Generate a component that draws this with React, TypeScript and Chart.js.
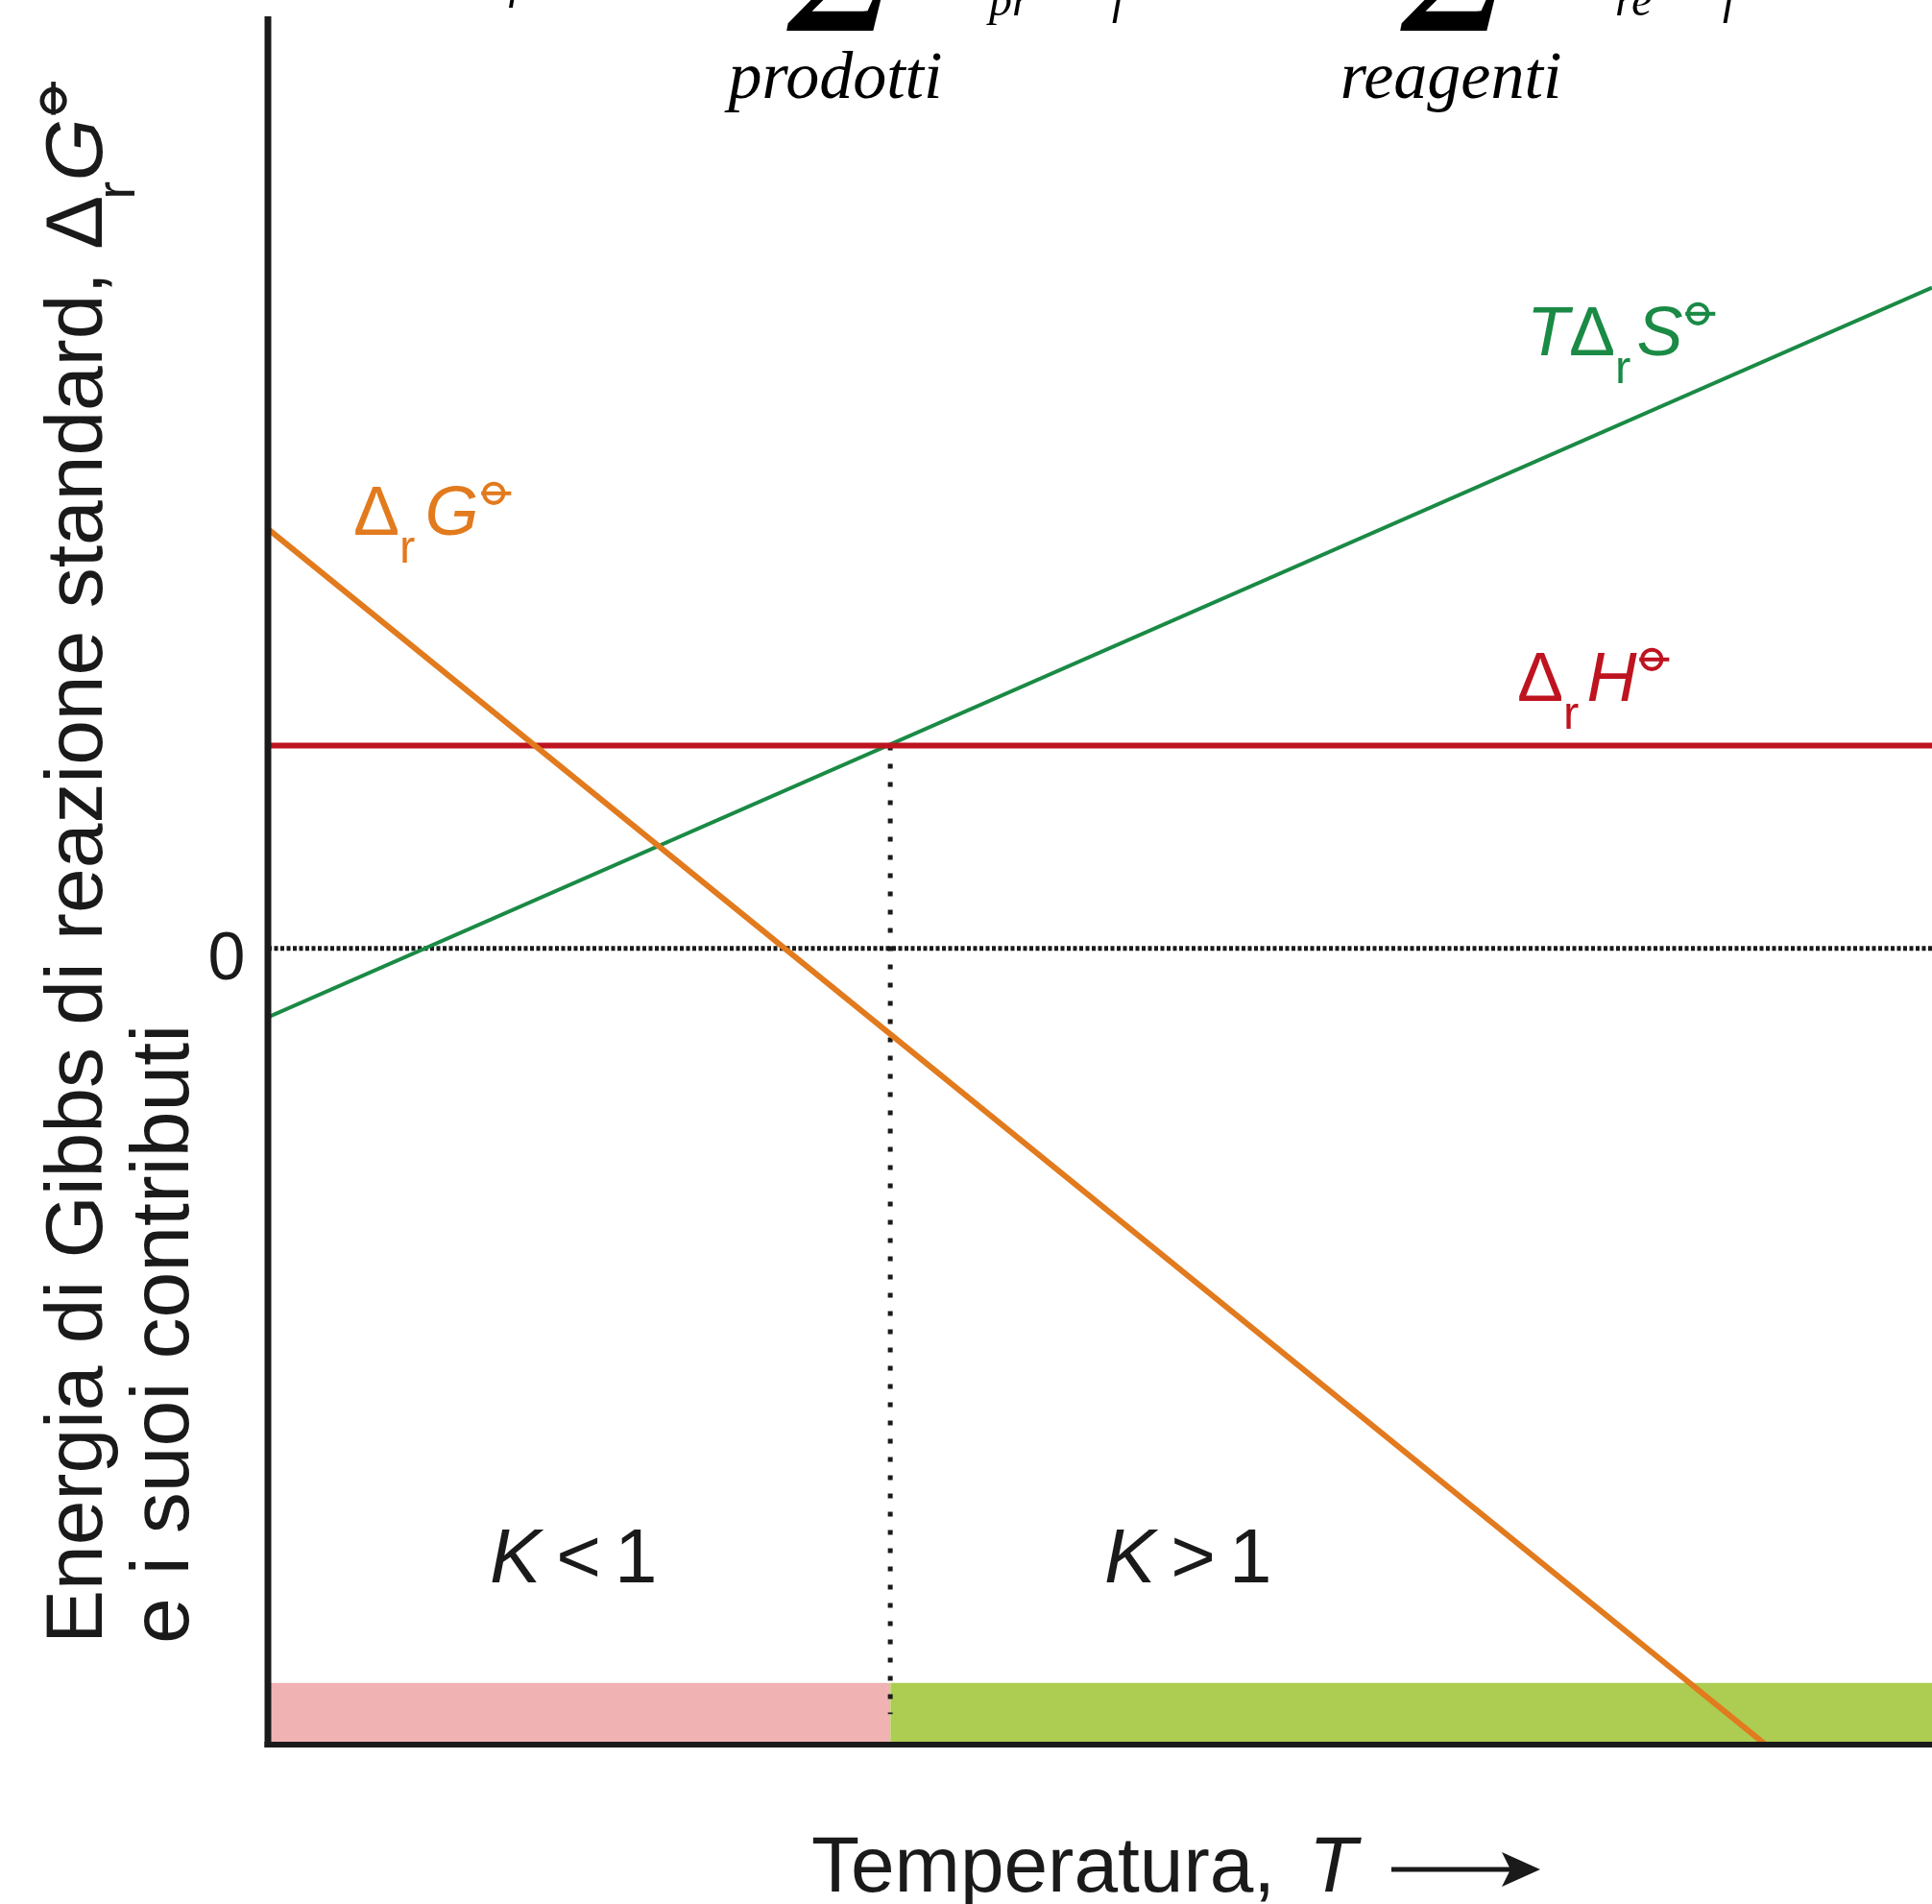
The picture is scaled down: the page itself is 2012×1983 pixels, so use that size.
import { useEffect, useRef } from "react";
import { Chart, registerables } from "chart.js";

Chart.register(...registerables);

// ---- data (schematic units: Δr H⊖ = 1) ----
const X_MIN = 0;
const X_MAX = 100;
const Y_MIN = -3.93;
const Y_MAX = 4.59;

const enthalpyT = [0, 100];
const enthalpyValues = [1, 1];
const entropyT = [0, 100];
const entropyValues = [-0.34, 3.26];
const gibbsT = [0, 90];
const gibbsValues = [2.07, -3.93];
const zeroT = [0, 100];
const zeroValues = [0, 0];
const crossoverT = [37.4, 37.4];
const crossoverValues = [1, -3.78];
const bandLowT = [0, 37.4];
const bandHighT = [37.4, 100];
const bandValues = [-3.626, -3.626];
const yTickLabels = ["0"];

const COLORS = {
  gibbs: "#E27A1E",
  entropy: "#1A8A45",
  enthalpy: "#BE1420",
  pink: "#F1B2B4",
  lime: "#ADCC52",
  ink: "#1a1a1a",
};

const SANS = '"Liberation Sans", Arial, Helvetica, sans-serif';
const SERIF = '"Liberation Serif", "Times New Roman", serif';

const pts = (xs: number[], ys: number[]) => xs.map((x, i) => ({ x, y: ys[i] }));

type Seg = { t?: string; italic?: boolean; sub?: boolean; plim?: boolean; gap?: number };

function plimsoll(ctx: CanvasRenderingContext2D, cx: number, cy: number, r: number, color: string) {
  ctx.save();
  ctx.strokeStyle = color;
  ctx.lineWidth = Math.max(3, r * 0.4);
  ctx.beginPath();
  ctx.arc(cx, cy, r, 0, Math.PI * 2);
  ctx.stroke();
  ctx.beginPath();
  ctx.moveTo(cx - r - 3, cy);
  ctx.lineTo(cx + r + 8, cy);
  ctx.stroke();
  ctx.restore();
}

function rich(
  ctx: CanvasRenderingContext2D,
  segs: Seg[],
  x: number,
  y: number,
  size: number,
  color: string,
  family: string
) {
  ctx.save();
  ctx.fillStyle = color;
  ctx.textBaseline = "alphabetic";
  ctx.textAlign = "left";
  let cx = x;
  for (const s of segs) {
    cx += s.gap || 0;
    if (s.plim) {
      const r = size * 0.14;
      plimsoll(ctx, cx + r + size * 0.08, y - size * 0.6, r, color);
      cx += 2 * r + size * 0.08;
      continue;
    }
    const fs = s.sub ? size * 0.68 : size;
    ctx.font = `${s.italic ? "italic " : ""}${fs}px ${family}`;
    ctx.fillText(s.t || "", cx, s.sub ? y + size * 0.4 : y);
    cx += ctx.measureText(s.t || "").width;
  }
  ctx.restore();
}

const annotations = {
  id: "annotations",
  afterDatasetsDraw(chart: any) {
    const ctx: CanvasRenderingContext2D = chart.ctx;
    const { left, bottom, right } = chart.chartArea;

    // axes
    ctx.save();
    ctx.fillStyle = COLORS.ink;
    ctx.fillRect(left - 3.5, 17, 7, bottom + 3 - 17);
    ctx.fillRect(left - 3.5, bottom - 3, right - left + 3.5, 6);
    ctx.restore();

    // tick label "0"
    const y0 = chart.scales.y.getPixelForValue(0);
    ctx.save();
    ctx.fillStyle = COLORS.ink;
    ctx.font = `70px ${SANS}`;
    ctx.textAlign = "center";
    ctx.textBaseline = "alphabetic";
    ctx.fillText(yTickLabels[0], 236, y0 + 32);
    ctx.restore();

    // series labels
    rich(ctx, [{ t: "Δ" }, { t: "r", sub: true }, { t: "G", italic: true, gap: 10 }, { plim: true }], 368, 557, 72, COLORS.gibbs, SANS);
    rich(ctx, [{ t: "Δ" }, { t: "r", sub: true }, { t: "H", italic: true, gap: 8 }, { plim: true }], 1580, 730, 72, COLORS.enthalpy, SANS);
    rich(ctx, [{ t: "T", italic: true }, { t: "Δ" }, { t: "r", sub: true }, { t: "S", italic: true, gap: 6 }, { plim: true }], 1590, 370, 72, COLORS.entropy, SANS);

    // K regions
    rich(ctx, [{ t: "K", italic: true }, { t: "<", gap: 16 }, { t: "1", gap: 14 }], 510, 1648, 80, COLORS.ink, SANS);
    rich(ctx, [{ t: "K", italic: true }, { t: ">", gap: 16 }, { t: "1", gap: 14 }], 1150, 1648, 80, COLORS.ink, SANS);

    // x title
    rich(ctx, [{ t: "Temperatura, " }, { t: "T", italic: true, gap: 12 }], 845, 1970, 82, COLORS.ink, SANS);
    ctx.save();
    ctx.strokeStyle = COLORS.ink;
    ctx.fillStyle = COLORS.ink;
    ctx.lineWidth = 5;
    ctx.beginPath();
    ctx.moveTo(1449, 1947);
    ctx.lineTo(1575, 1947);
    ctx.stroke();
    ctx.beginPath();
    ctx.moveTo(1604, 1947);
    ctx.lineTo(1564, 1929);
    ctx.lineTo(1573, 1947);
    ctx.lineTo(1564, 1965);
    ctx.closePath();
    ctx.fill();
    ctx.restore();

    // y title (rotated)
    ctx.save();
    ctx.translate(106, 1712);
    ctx.rotate(-Math.PI / 2);
    rich(
      ctx,
      [{ t: "Energia di Gibbs di reazione standard, Δ" }, { t: "r", sub: true, gap: -4 }, { t: "G", italic: true, gap: 0 }, { plim: true }],
      0,
      0,
      84,
      COLORS.ink,
      SANS
    );
    ctx.restore();
    ctx.save();
    ctx.translate(196, 1712);
    ctx.rotate(-Math.PI / 2);
    rich(ctx, [{ t: "e i suoi contributi" }], 0, 0, 86, COLORS.ink, SANS);
    ctx.restore();

    // clipped equation fragments at the top
    ctx.save();
    ctx.fillStyle = "#000";
    ctx.textBaseline = "alphabetic";
    ctx.textAlign = "left";
    ctx.font = `italic bold 170px ${SERIF}`;
    ctx.fillText("Σ", 822, 32);
    ctx.fillText("Σ", 1461, 32);
    ctx.font = `italic 48px ${SERIF}`;
    ctx.fillText("pr", 1030, 16);
    ctx.fillText("f", 1158, 14);
    ctx.fillText("re", 1682, 16);
    ctx.fillText("f", 1794, 14);
    ctx.fillText("r", 528, 8);
    ctx.font = `italic 70px ${SERIF}`;
    ctx.textAlign = "center";
    ctx.fillText("prodotti", 870, 102);
    ctx.fillText("reagenti", 1511, 102);
    ctx.restore();
  },
};

export default function App() {
  const ref = useRef<HTMLCanvasElement>(null);
  useEffect(() => {
    document.body.style.margin = "0";
    document.body.style.overflow = "hidden";
    const chart = new Chart(ref.current as HTMLCanvasElement, {
      type: "line",
      data: {
        datasets: [
          {
            data: pts(gibbsT, gibbsValues),
            borderColor: COLORS.gibbs,
            borderWidth: 6,
            order: 0,
          },
          {
            data: pts(enthalpyT, enthalpyValues),
            borderColor: COLORS.enthalpy,
            borderWidth: 6,
            order: 1,
          },
          {
            data: pts(entropyT, entropyValues),
            borderColor: COLORS.entropy,
            borderWidth: 4,
            order: 2,
          },
          {
            data: pts(crossoverT, crossoverValues),
            borderColor: COLORS.ink,
            borderWidth: 5,
            borderDash: [5, 14],
            order: 3,
          },
          {
            data: pts(zeroT, zeroValues),
            borderColor: COLORS.ink,
            borderWidth: 5,
            borderDash: [4, 2.5],
            order: 4,
          },
          {
            data: pts(bandLowT, bandValues),
            borderWidth: 0,
            borderColor: "rgba(0,0,0,0)",
            backgroundColor: COLORS.pink,
            fill: "start",
            order: 10,
          },
          {
            data: pts(bandHighT, bandValues),
            borderWidth: 0,
            borderColor: "rgba(0,0,0,0)",
            backgroundColor: COLORS.lime,
            fill: "start",
            order: 11,
          },
        ] as any,
      },
      options: {
        animation: false,
        responsive: false,
        devicePixelRatio: 1,
        events: [],
        layout: { padding: { left: 279, top: 19, right: 0, bottom: 166 } },
        elements: {
          point: { radius: 0 },
          line: { tension: 0, borderCapStyle: "butt" },
        },
        plugins: {
          legend: { display: false },
          tooltip: { enabled: false },
          title: { display: false },
        },
        scales: {
          x: { type: "linear", min: X_MIN, max: X_MAX, display: false },
          y: { type: "linear", min: Y_MIN, max: Y_MAX, display: false },
        },
      },
      plugins: [annotations],
    });
    return () => chart.destroy();
  }, []);
  return (
    <div style={{ position: "absolute", left: 0, top: 0, width: 2012, height: 1983, background: "#fff" }}>
      <canvas ref={ref} width={2012} height={1983} style={{ display: "block", width: 2012, height: 1983 }} />
    </div>
  );
}
